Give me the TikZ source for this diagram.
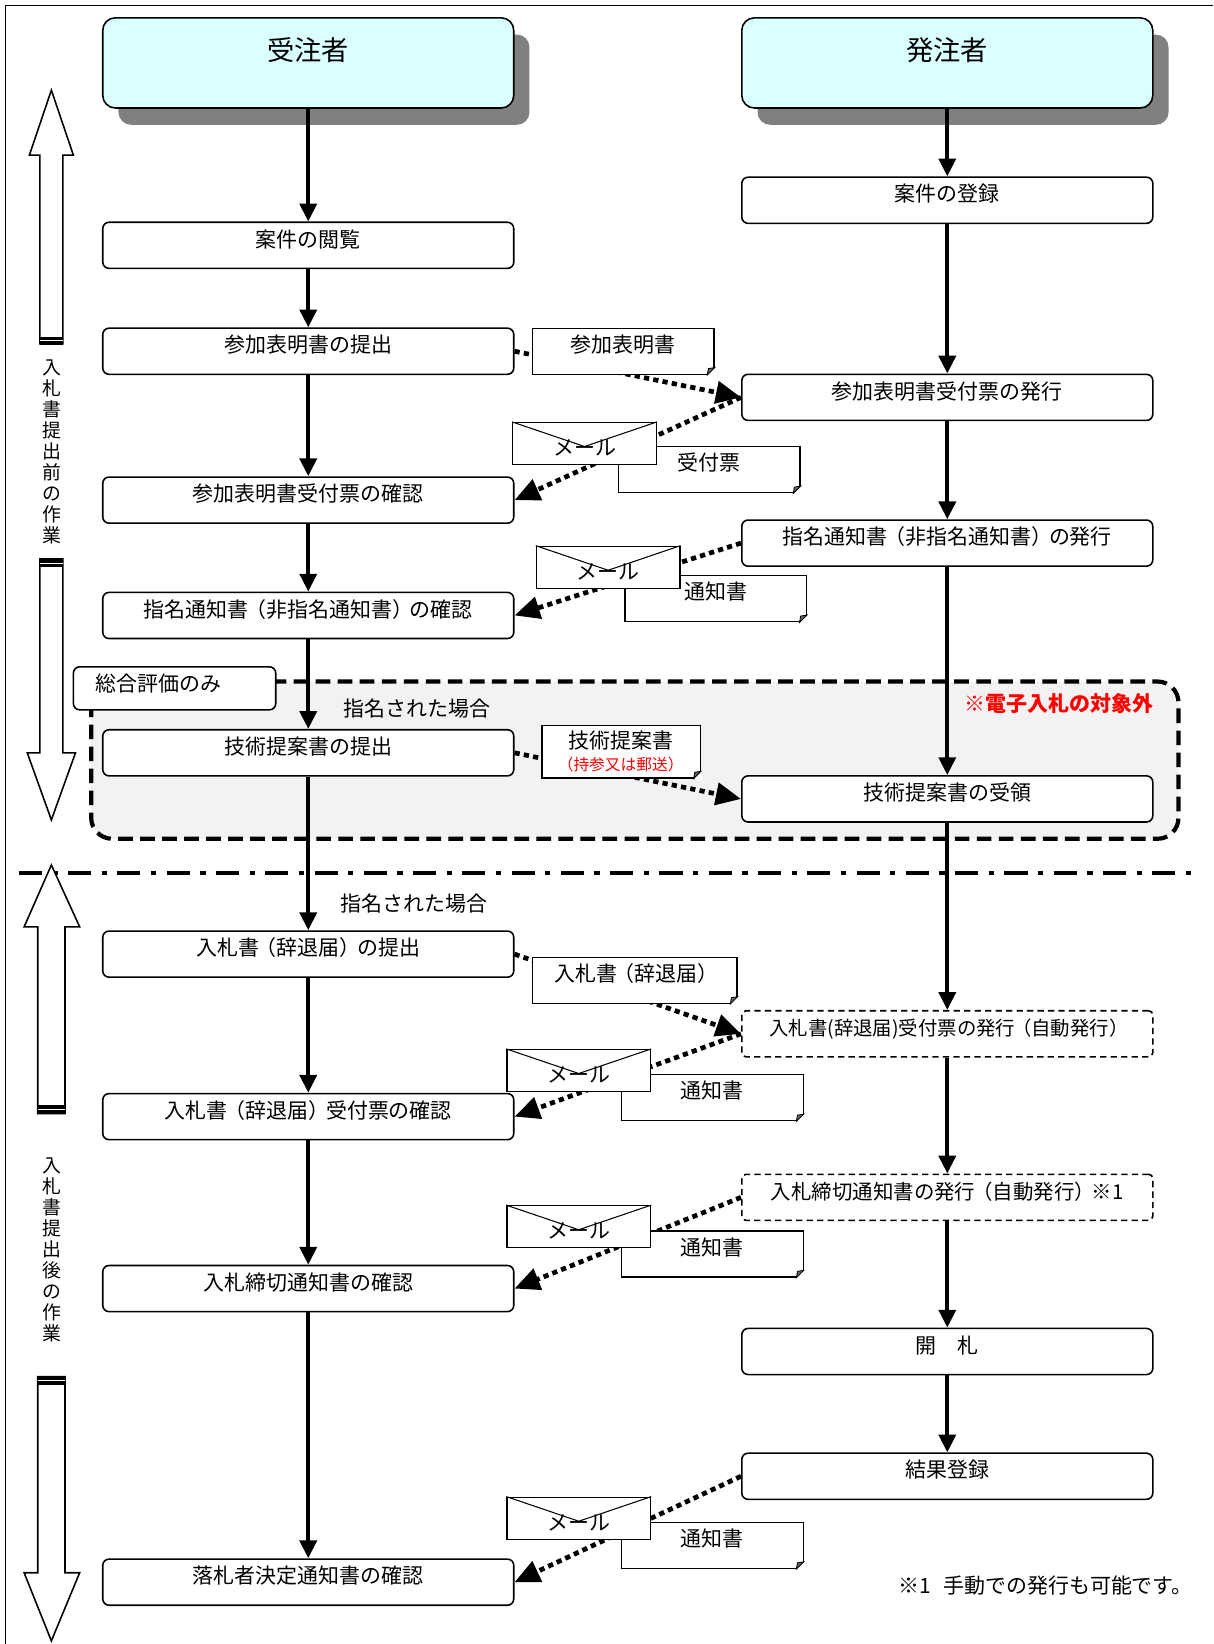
\documentclass[tikz,border=0pt]{standalone}
\usepackage{fontspec}
\setmainfont{Noto Sans CJK JP}
\usetikzlibrary{arrows.meta,shadows,calc}
\definecolor{headcyan}{RGB}{218,255,255}
\newcommand{\bodyfont}{\fontsize{20}{24}\selectfont}
\newcommand{\kakkoL}{\kern-3pt（}
\newcommand{\kakkoR}{）\kern-3pt}
\tikzset{
  head/.style={draw, line width=1.5pt, rounded corners=12pt, fill=headcyan,
    minimum width=392pt, inner sep=0pt, text height=41pt, text depth=45pt,
    font=\fontsize{26}{30}\selectfont,
    drop shadow={shadow xshift=15pt, shadow yshift=-16pt, fill=black!50, opacity=1}},
  pbox/.style={draw, line width=1.5pt, rounded corners=6pt, fill=white,
    minimum width=392pt, inner sep=0pt, text height=23.6pt, text depth=20.4pt,
    font=\bodyfont},
  abox/.style={pbox, dash pattern=on 6pt off 4pt, rounded corners=4pt},
  lbl/.style={draw, line width=1.5pt, rounded corners=6pt, fill=white,
    inner xsep=21pt, inner ysep=0pt, text width=151pt, align=left,
    text height=23.6pt, text depth=17.4pt, font=\bodyfont},
  doc/.style={draw, line width=1.2pt, fill=white, minimum width=173pt,
    inner sep=0pt, text height=23.1pt, text depth=20.9pt, font=\bodyfont},
  mail/.style={draw, line width=1.2pt, fill=white, minimum width=137pt,
    inner sep=0pt, text height=31.6pt, text depth=8.4pt, font=\bodyfont},
  flow/.style={-{Triangle[length=17pt,width=16pt]}, line width=4pt},
  post/.style={-{Triangle[length=24pt,width=21pt]}, line width=4.5pt,
    dash pattern=on 5pt off 4pt},
  grp/.style={draw, line width=4pt, dash pattern=on 14pt off 7pt,
    rounded corners=20pt, fill=black!5},
  sep/.style={line width=4pt, dash pattern=on 22pt off 10pt on 5pt off 10pt},
  phase/.style={draw, line width=1.5pt, fill=white},
  phasetext/.style={align=center, font=\fontsize{18}{20}\selectfont}
}
\begin{document}
\begin{tikzpicture}[x=1pt,y=-1pt]
\useasboundingbox (0,0) rectangle (1157,1568);
% frame
\draw[line width=1.2pt] (5,1568) -- (5,5) -- (1157,5);

% part for the overall evaluation only
\draw[grp] (87,650) rectangle (1124,800);
\node[lbl] (sogo) at (166.5,656.5) {総合評価のみ};
\node[font=\bodyfont] (shimei1) at (398,676) {指名された場合};
\node[font=\bodyfont\bfseries, text=red] (gai) at (1010,671) {※電子入札の対象外};

% border of the two phases
\draw[sep] (18,833) -- (1140,833);
\node[font=\bodyfont] (shimei2) at (395,862) {指名された場合};

% phase arrows
\draw[phase] (38,328) -- (38,148) -- (28,148) -- (49,86) -- (70,148) -- (60,148) -- (60,328) -- cycle;
\fill (38,321) rectangle (60,329);
\draw[white, line width=1pt] (38,325) -- (60,325);
\node[phasetext] (mae) at (50,431) {入\\札\\書\\提\\出\\前\\の\\作\\業};
\draw[phase] (38,533) -- (38,718) -- (26,718) -- (49,782) -- (72,718) -- (60,718) -- (60,533) -- cycle;
\fill (38,533) rectangle (60,541);
\draw[white, line width=1pt] (38,537) -- (60,537);

\draw[phase] (36,1062) -- (36,884) -- (23,884) -- (49,825) -- (76,884) -- (62,884) -- (62,1062) -- cycle;
\fill (36,1054) rectangle (62,1062);
\draw[white, line width=1pt] (36,1058) -- (62,1058);
\node[phasetext] (ato) at (50,1192) {入\\札\\書\\提\\出\\後\\の\\作\\業};
\draw[phase] (36,1313) -- (36,1500) -- (23,1500) -- (49,1565) -- (76,1500) -- (62,1500) -- (62,1313) -- cycle;
\fill (36,1313) rectangle (62,1321);
\draw[white, line width=1pt] (36,1317) -- (62,1317);

% contractor
\node[head] (jc) at (294,60) {受注者};
\node[pbox] (c1) at (294,234) {案件の閲覧};
\node[pbox] (c2) at (294,335) {参加表明書の提出};
\node[pbox] (c3) at (294,477) {参加表明書受付票の確認};
\node[pbox] (c4) at (294,587) {指名通知書\kakkoL 非指名通知書\kakkoR の確認};
\node[pbox] (c5) at (294,718) {技術提案書の提出};
\node[pbox] (c6) at (294,910) {入札書\kakkoL 辞退届\kakkoR の提出};
\node[pbox] (c7) at (294,1065) {入札書\kakkoL 辞退届\kakkoR 受付票の確認};
\node[pbox] (c8) at (294,1229) {入札締切通知書の確認};
\node[pbox] (c9) at (294,1509) {落札者決定通知書の確認};

% orderer
\node[head] (hc) at (903.5,60) {発注者};
\node[pbox] (o1) at (903.5,191) {案件の登録};
\node[pbox] (o2) at (903.5,379) {参加表明書受付票の発行};
\node[pbox] (o3) at (903.5,518) {指名通知書\kakkoL 非指名通知書\kakkoR の発行};
\node[pbox] (o4) at (903.5,762) {技術提案書の受領};
\node[abox, font=\fontsize{18.5}{22}\selectfont] (o5) at (903.5,986) {入札書(辞退届)受付票の発行\kakkoL 自動発行\kakkoR};
\node[abox, font=\fontsize{19.5}{23}\selectfont] (o6) at (903.5,1142) {入札締切通知書の発行\kakkoL 自動発行\kakkoR ※1};
\node[pbox] (o7) at (903.5,1289) {開　札};
\node[pbox] (o8) at (903.5,1408) {結果登録};

\foreach \a/\b in {jc/c1,c1/c2,c2/c3,c3/c4,c4/c5,c5/c6,c6/c7,c7/c8,c8/c9,
    hc/o1,o1/o2,o2/o3,o3/o4,o4/o5,o5/o6,o6/o7,o7/o8}
  \draw[flow] (\a) -- (\b);

% papers and mails
\draw[post] (c2.east) -- (o2.west);
\draw[post] (o2.west) -- (c3.east);
\draw[post] (o3.west) -- (c4.east);
\draw[post] (c5.east) -- (o4.west);
\draw[post] (c6.east) -- (o5.west);
\draw[post] (o5.west) -- (c7.east);
\draw[post] (o6.west) -- (c8.east);
\draw[post] (o8.west) -- (c9.east);

\node[doc] (d1) at (594.5,335) {参加表明書};
\node[doc] (d2) at (676.5,448) {受付票};
\node[doc] (d3) at (682.5,571) {通知書};
\node[doc, minimum width=151pt, text height=21.6pt, text depth=28.4pt] (d4) at (592.5,717) {技術提案書};
\node[font=\fontsize{15}{17}\selectfont, text=red] (d4note) at (592,729) {\kakkoL 持参又は郵送\kakkoR};
\node[doc, minimum width=195pt] (d5) at (605.5,935) {入札書\kakkoL 辞退届\kakkoR};
\node[doc] (d6) at (679.5,1047) {通知書};
\node[doc] (d7) at (679.5,1196) {通知書};
\node[doc] (d8) at (679.5,1474) {通知書};
\foreach \d in {d1,d2,d3,d4,d5,d6,d7,d8}{
  \fill[white] ([xshift=-7pt]\d.south east) -- ([xshift=1pt,yshift=-1pt]\d.south east) -- ([yshift=7pt]\d.south east) -- cycle;
  \filldraw[fill=black!60, line width=0.8pt] ([xshift=-7pt]\d.south east) -- ([yshift=7pt]\d.south east) -- ([xshift=-6pt,yshift=6pt]\d.south east) -- cycle;
}

\node[mail] (m1) at (557.5,423) {メール};
\node[mail] (m2) at (580,541) {メール};
\node[mail] (m3) at (552,1021) {メール};
\node[mail] (m4) at (552,1170) {メール};
\node[mail] (m5) at (552,1448) {メール};
\foreach \m in {m1,m2,m3,m4,m5}
  \draw[line width=1pt] (\m.north west) -- ($(\m.north)!0.57!(\m.south)$) -- (\m.north east);

% note
\node[font=\bodyfont, anchor=west] (chu) at (853,1512) {※1\hspace{12pt}手動での発行も可能です。};
\end{tikzpicture}
\end{document}
